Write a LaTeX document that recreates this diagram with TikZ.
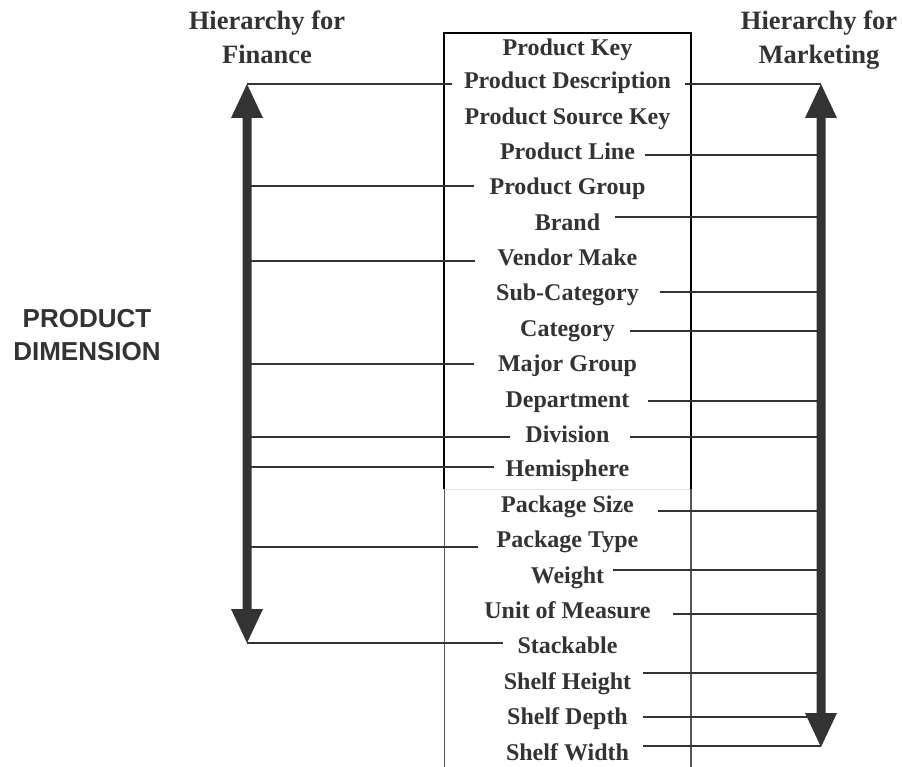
\documentclass[tikz,border=0pt]{standalone}
\usepackage{fontspec}
\setmainfont{Liberation Serif}
\newfontfamily\dimfont{Liberation Sans}
\usetikzlibrary{calc}
\definecolor{ink}{HTML}{333333}
\definecolor{boxgray}{HTML}{555555}
\definecolor{faint}{HTML}{E4E4E4}
\newcommand\finline[3]{\draw[conn] ([xshift=-#2pt,yshift=#3pt]#1.base west) coordinate (tmp) -- (tmp -| F);}
\newcommand\mktline[3]{\draw[conn] ([xshift=#2pt,yshift=#3pt]#1.base east) coordinate (tmp) -- (tmp -| M);}
\newcommand\dblarrow[2]{\fill[ink] (#1) -- ($(#1)+(16,34)$) -- ($(#1)+(4.5,34)$) -- ($(#2)+(4.5,-34)$) -- ($(#2)+(16,-34)$) -- (#2) -- ($(#2)+(-16,-34)$) -- ($(#2)+(-4.5,-34)$) -- ($(#1)+(-4.5,34)$) -- ($(#1)+(-16,34)$) -- cycle;}
\begin{document}
\begin{tikzpicture}[x=1pt,y=-1pt,
  item/.style={anchor=base, inner sep=0pt, text=ink, font=\fontsize{24}{28}\selectfont\bfseries},
  hdr/.style={anchor=base, inner sep=0pt, text=ink, font=\fontsize{26.5}{34}\selectfont\bfseries},
  dimlabel/.style={anchor=base, inner sep=0pt, text=ink, font=\dimfont\fontsize{26}{33}\selectfont\bfseries},
  conn/.style={draw=ink, line width=1.3pt},
  boxtop/.style={draw=black, line width=1.6pt},
  boxlow/.style={draw=boxgray, line width=1.3pt}]
\useasboundingbox (0,0) rectangle (902,767);
\begin{scope}
\clip (0,0) rectangle (902,767);
% attribute box
\draw[boxtop] (444,489) -- (444,33) -- (691,33) -- (691,489);
\draw[draw=faint, line width=1pt] (444,489) -- (691,489);
\draw[boxlow] (444.5,489) -- (444.5,770);
\draw[boxlow] (691,489) -- (691,770);
\end{scope}
% headers
\node[hdr] (hf1) at (267,30) {Hierarchy for};
\node[hdr] (hf2) at (267,64) {Finance};
\node[hdr] (hm1) at (819,30) {Hierarchy for};
\node[hdr] (hm2) at (819,64) {Marketing};
\node[dimlabel] (pd1) at (87,327) {PRODUCT};
\node[dimlabel] (pd2) at (87,360) {DIMENSION};
% items
\node[item] (pkey) at (567.5,56) {Product Key};
\node[item] (pdesc) at (567.5,89) {Product Description};
\node[item] (psrc) at (567.5,124.5) {Product Source Key};
\node[item] (pline) at (567.5,160) {Product Line};
\node[item] (pgrp) at (567.5,195) {Product Group};
\node[item] (brand) at (567.5,230.5) {Brand};
\node[item] (vend) at (567.5,265.5) {Vendor Make};
\node[item] (subcat) at (567.5,301) {Sub-Category};
\node[item] (cat) at (567.5,336.2) {Category};
\node[item] (major) at (567.5,371.6) {Major Group};
\node[item] (dept) at (567.5,407) {Department};
\node[item] (divi) at (567.5,442) {Division};
\node[item] (hemi) at (567.5,476.8) {Hemisphere};
\node[item] (psize) at (567.5,512.2) {Package Size};
\node[item] (ptype) at (567.5,547.6) {Package Type};
\node[item] (weight) at (567.5,583) {Weight};
\node[item] (unit) at (567.5,618.4) {Unit of Measure};
\node[item] (stack) at (567.5,653.8) {Stackable};
\node[item] (sheight) at (567.5,689.2) {Shelf Height};
\node[item] (sdepth) at (567.5,724.6) {Shelf Depth};
\node[item] (swidth) at (567.5,760) {Shelf Width};
% hierarchy arrows
\coordinate (F) at (247,0);
\coordinate (M) at (821,0);
\coordinate (ftop) at (247,84);
\coordinate (fbot) at (247,643);
\coordinate (mtop) at (821,84);
\coordinate (mbot) at (821,747);
\dblarrow{ftop}{fbot}
\dblarrow{mtop}{mbot}
% finance connectors
\finline{pdesc}{12}{5}
\finline{pgrp}{15}{9}
\finline{vend}{22.5}{4.5}
\finline{major}{24}{7.6}
\finline{divi}{15.5}{5}
\finline{hemi}{11.5}{9.8}
\finline{ptype}{19}{0.6}
\finline{stack}{14.5}{10.8}
% marketing connectors
\mktline{pdesc}{14}{5}
\mktline{pline}{10}{5}
\mktline{brand}{15}{13.5}
\mktline{subcat}{21}{9}
\mktline{cat}{15}{5.2}
\mktline{dept}{18.5}{6}
\mktline{divi}{20.5}{5}
\mktline{psize}{24}{1.2}
\mktline{weight}{9}{13}
\mktline{unit}{22}{4.4}
\mktline{sheight}{12}{16.2}
\mktline{sdepth}{15}{7.6}
\mktline{swidth}{14}{14}
\end{tikzpicture}
\end{document}
